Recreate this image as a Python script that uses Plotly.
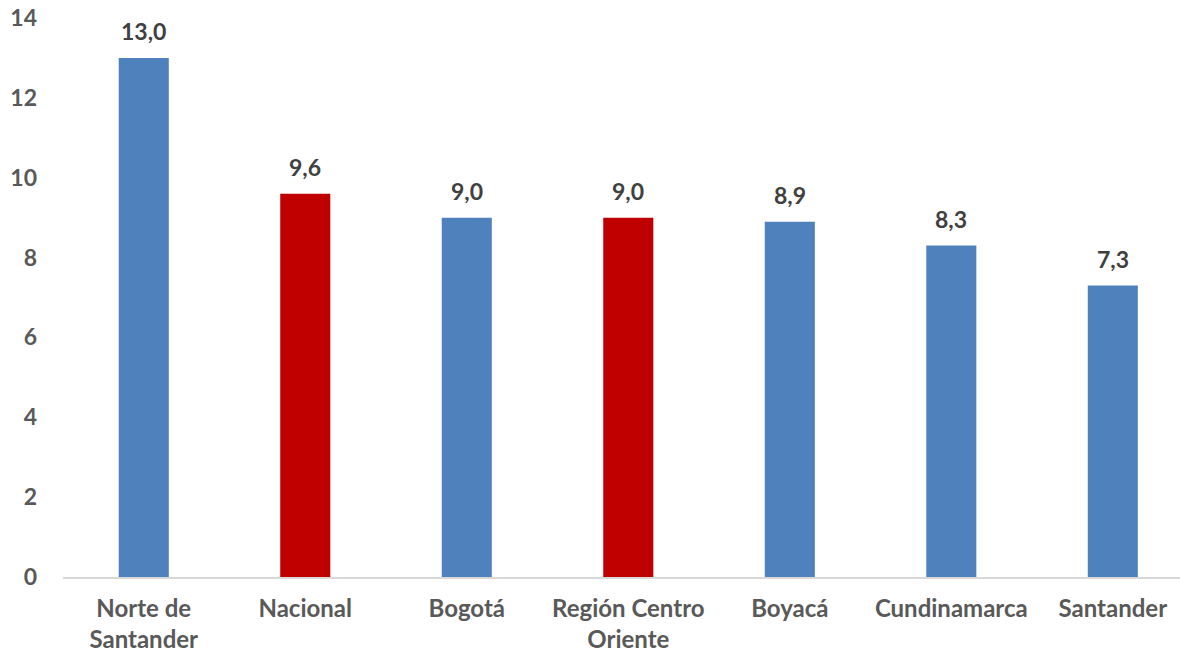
import plotly.graph_objects as go

# Categories and values
categories = ["Norte de<br>Santander", "Nacional", "Bogotá", "Región Centro<br>Oriente",
              "Boyacá", "Cundinamarca", "Santander"]
values = [13.0, 9.6, 9.0, 9.0, 8.9, 8.3, 7.3]
highlight = [False, True, False, True, False, False, False]

BLUE = "#4f81bd"
RED = "#c00000"
colors = [RED if h else BLUE for h in highlight]

FONT = "Lato"

fig = go.Figure(
    go.Bar(
        x=categories,
        y=values,
        marker=dict(color=colors, line=dict(width=0)),
        width=0.31,
        hoverinfo="skip",
    )
)

# Value labels above each bar (decimal comma)
for cat, v in zip(categories, values):
    fig.add_annotation(
        x=cat, y=v, text=f"{v:.1f}".replace(".", ","),
        showarrow=False, yshift=27, yanchor="middle",
        font=dict(family=FONT, size=23, color="#404040", weight="bold"),
    )

fig.update_layout(
    width=1180, height=655,
    margin=dict(l=63, r=0, t=18, b=78),
    paper_bgcolor="white", plot_bgcolor="white",
    showlegend=False,
    font=dict(family=FONT, size=23, color="#595959", weight="bold"),
)
fig.update_xaxes(
    type="category",
    range=[-0.5, 6.416],
    automargin=False,
    showline=True, linecolor="#d9d9d9", linewidth=1.5,
    showgrid=False, ticks="", ticklabelstandoff=9,
    tickfont=dict(family=FONT, size=24, color="#595959", weight="bold"),
)
fig.update_yaxes(
    range=[0, 14], dtick=2, tick0=0,
    automargin=False,
    showgrid=False, zeroline=False, showline=False, ticks="",
    ticklabelstandoff=25,
    tickfont=dict(family=FONT, size=23, color="#595959", weight="bold"),
)

fig.write_html("out.html")
